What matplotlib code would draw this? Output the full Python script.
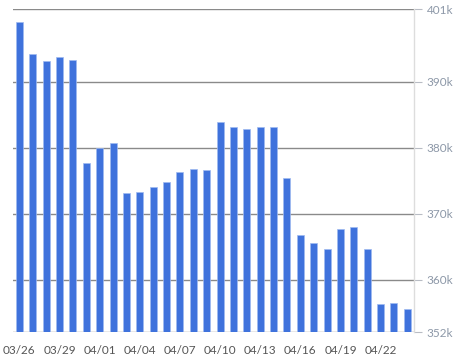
import matplotlib
matplotlib.use("Agg")
import matplotlib.pyplot as plt

dates = ["03/26","03/27","03/28","03/29","03/30","03/31","04/01","04/02","04/03","04/04",
         "04/05","04/06","04/07","04/08","04/09","04/10","04/11","04/12","04/13","04/14",
         "04/15","04/16","04/17","04/18","04/19","04/20","04/21","04/22","04/23","04/24"]
values = [399.1, 394.3, 393.2, 393.8, 393.3, 377.7, 380.0, 380.7, 373.2, 373.3,
          374.0, 374.8, 376.4, 376.8, 376.6, 383.9, 383.2, 382.8, 383.1, 383.2,
          375.4, 366.8, 365.6, 364.6, 367.6, 368.0, 364.6, 356.3, 356.5, 355.5]
yticks = [352, 360, 370, 380, 390, 401]
ytick_labels = ["352k", "360k", "370k", "380k", "390k", "401k"]

plt.rcParams['font.family'] = ['Lato', 'DejaVu Sans']

fig = plt.figure(figsize=(4.53, 3.61), dpi=100)
ax = fig.add_axes([0.028, 0.0795, 0.886, 0.8945])

x = list(range(len(values)))
ymin = yticks[0]
ax.bar(x, [v - ymin for v in values], bottom=ymin, width=0.52, color="#3f72dc",
       edgecolor="#9fbaf0", linewidth=0.5, zorder=3)

ax.set_xlim(-0.5, len(values) - 0.5)
ax.set_ylim(yticks[0], yticks[-1])

for t in yticks:
    ax.axhline(t, color="#8a8a8a", linewidth=1.0, zorder=1)

ax.yaxis.tick_right()
ax.set_yticks(yticks)
ax.set_yticklabels(ytick_labels)
ax.tick_params(axis="y", length=6, width=0.8, color="#b8bcc4", labelcolor="#8d98a8",
               labelsize=8.5, pad=3)

ax.set_xticks(x[::3])
ax.set_xticklabels(dates[::3])
ax.tick_params(axis="x", length=0, labelcolor="#555555", labelsize=8.5, pad=9)

for s in ["top", "left", "bottom"]:
    ax.spines[s].set_visible(False)
ax.spines["right"].set_color("#dddddd")
ax.spines["right"].set_linewidth(1.0)

fig.savefig("out.png", dpi=100)
